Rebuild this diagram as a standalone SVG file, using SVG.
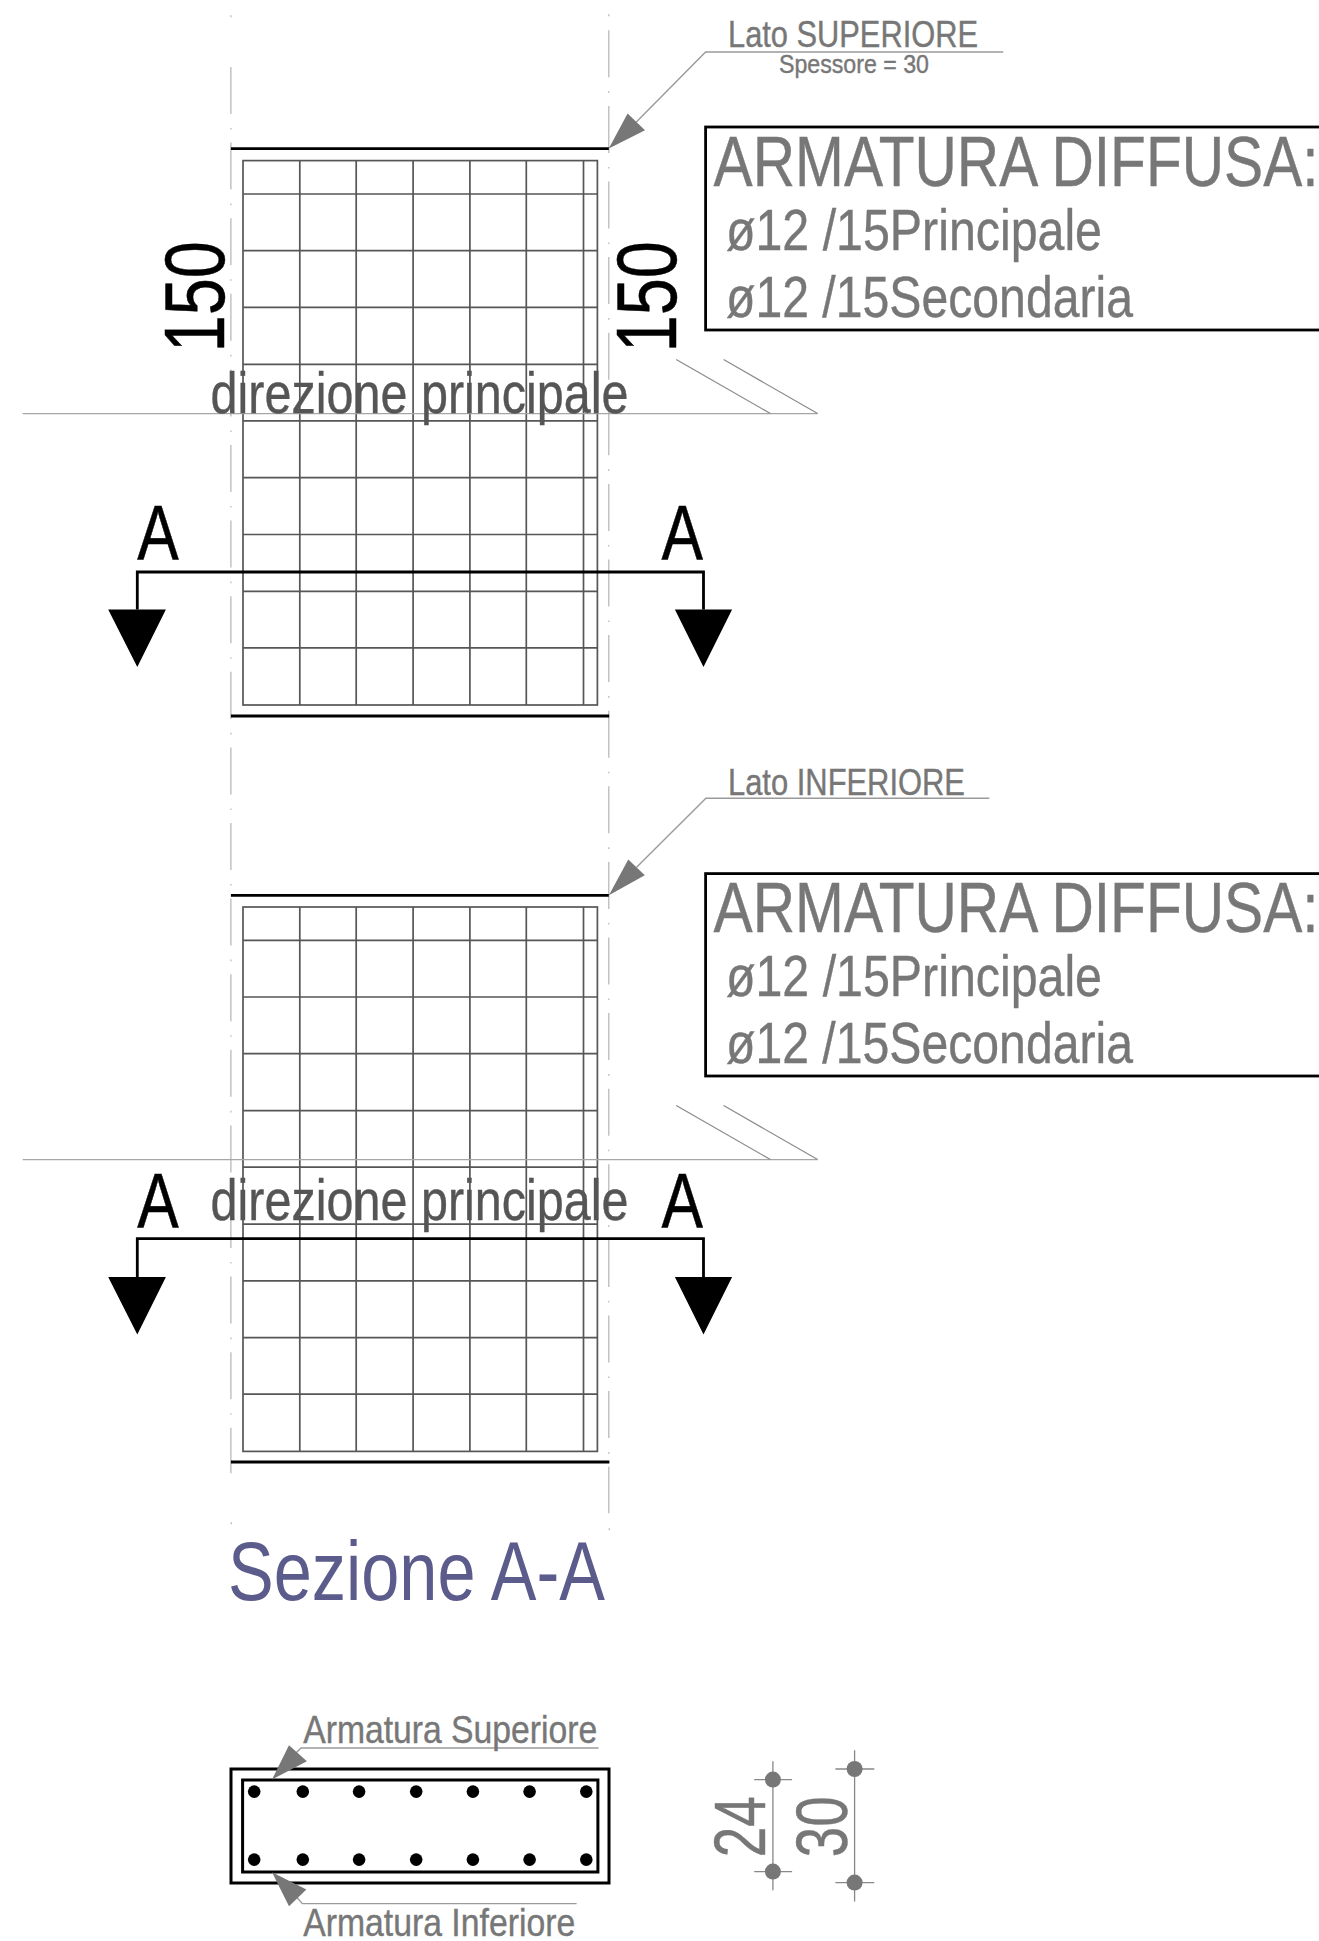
<svg xmlns="http://www.w3.org/2000/svg" xmlns:xlink="http://www.w3.org/1999/xlink" width="1319" height="1941" viewBox="0 0 1319 1941">
<style>
text{font-family:"Liberation Sans",Arial,sans-serif}
text.g{fill:#777;stroke:#777;stroke-width:.4}
text.d{fill:#555;stroke:#555;stroke-width:.4}
text.k{fill:#000;stroke:#000;stroke-width:.5}
.k{fill:#000}
.c{stroke:#b4b4b4;stroke-width:1.2;fill:none}
.cd{stroke-dasharray:47 14 1.6 13}
.th{stroke:#000;stroke-width:2.8;fill:none}
.gr{stroke:#565656;stroke-width:1.7;fill:none}
.rf{stroke:#a6a6a6;stroke-width:1.4;fill:none}
.sl{stroke:#8a8a8a;stroke-width:1.2;fill:none}
.ld{stroke:#9a9a9a;stroke-width:1.4;fill:none}
.sec{stroke:#000;stroke-width:3;fill:none}
.ar{fill:#777;stroke:none}
.dm{stroke:#888;stroke-width:1.3;fill:none}
</style>
<defs>
<g id="grid">
<rect class="gr" x="242.4" y="160.3" width="354.4" height="544.4"/>
<path class="gr" d="M299.2 160.3V704.7M355.6 160.3V704.7M412.5 160.3V704.7M469.3 160.3V704.7M525.7 160.3V704.7M582.9 160.3V704.7"/>
<path class="gr" d="M242.4 193.7H596.8M242.4 250.3H596.8M242.4 307H596.8M242.4 364H596.8M242.4 420.5H596.8M242.4 477.4H596.8M242.4 534.2H596.8M242.4 591H596.8M242.4 647.5H596.8"/>
</g>
<g id="refl">
<path class="rf" d="M22 413.3H817"/>
<path class="sl" d="M675.6 359.3L769.8 413.3M723 359.3L817 413.3"/>
</g>
</defs>
<g transform="translate(0.6 0.3)">

<g id="centerlines">
<path class="c" d="M230.3 15V17M608.2 14V16"/>
<path class="c cd" d="M230.3 66.7V1473"/>
<path class="c cd" d="M608.2 30V1513"/>
<path class="c" d="M230.7 1522V1524M608.7 1528V1530"/>
</g>

<g id="panel-superiore">
<path class="th" d="M230.3 148.3H608.2M230.3 715.7H608.6"/>
<use xlink:href="#grid" href="#grid"/>
<use xlink:href="#refl" href="#refl"/>
<text class="k" font-size="86" transform="translate(223.2 352) rotate(-90)" textLength="111" lengthAdjust="spacingAndGlyphs">150</text>
<text class="k" font-size="86" transform="translate(675.6 352) rotate(-90)" textLength="111" lengthAdjust="spacingAndGlyphs">150</text>
</g>

<g id="section-line-1">
<path class="th" d="M136.7 609.3V571.7H702.9V609.3"/>
<path class="k" d="M107.6 609.3H165.3L136.7 666.7ZM674.3 609.3H731.5L702.9 666.7Z"/>
<text class="k" font-size="77" x="136.7" y="560" textLength="41.5" lengthAdjust="spacingAndGlyphs">A</text>
<text class="k" font-size="77" x="660.8" y="560" textLength="41.5" lengthAdjust="spacingAndGlyphs">A</text>
</g>
<text id="label-direzione-1" class="d" font-size="58" x="210" y="413" textLength="418" lengthAdjust="spacingAndGlyphs">direzione principale</text>

<g id="callout-superiore">
<path class="ld" d="M1002.6 51.7H705L635.7 121.7"/>
<path class="ar" d="M608.2 148.3L627 113.3L644.4 130Z"/>
<text class="g" font-size="36" x="727.4" y="46.7" textLength="250" lengthAdjust="spacingAndGlyphs">Lato SUPERIORE</text>
<text class="g" font-size="26" x="778.4" y="72.7" textLength="150" lengthAdjust="spacingAndGlyphs">Spessore = 30</text>
</g>
<g id="box-superiore">
<rect class="th" x="705" y="126.7" width="640" height="203"/>
<text class="g" font-size="71" x="713" y="186" textLength="605" lengthAdjust="spacingAndGlyphs">ARMATURA DIFFUSA:</text>
<text class="g" font-size="57" x="725.4" y="249.6" textLength="376" lengthAdjust="spacingAndGlyphs">ø12 /15Principale</text>
<text class="g" font-size="57" x="725.4" y="316.6" textLength="407" lengthAdjust="spacingAndGlyphs">ø12 /15Secondaria</text>
</g>

<g id="panel-inferiore">
<path class="th" d="M230.3 895H608.2M230.3 1461.7H608.8"/>
<use xlink:href="#grid" href="#grid" transform="translate(0 746.4)"/>
<use xlink:href="#refl" href="#refl" transform="translate(0 746)"/>
</g>

<g id="section-line-2">
<path class="th" d="M136.7 1276.7V1238.3H702.9V1276.7"/>
<path class="k" d="M107.6 1276.7H165.3L136.7 1334.3ZM674.3 1276.7H731.5L702.9 1334.3Z"/>
<text class="k" font-size="77" x="136.7" y="1227.7" textLength="41.5" lengthAdjust="spacingAndGlyphs">A</text>
<text class="k" font-size="77" x="660.8" y="1227.7" textLength="41.5" lengthAdjust="spacingAndGlyphs">A</text>
</g>
<text id="label-direzione-2" class="d" font-size="58" x="210" y="1220" textLength="418" lengthAdjust="spacingAndGlyphs">direzione principale</text>

<g id="callout-inferiore">
<path class="ld" d="M988.7 798H705.3L636 867"/>
<path class="ar" d="M608.3 895L627.7 859.3L644.2 875Z"/>
<text class="g" font-size="36" x="727.4" y="794.6" textLength="237" lengthAdjust="spacingAndGlyphs">Lato INFERIORE</text>
</g>
<g id="box-inferiore">
<rect class="th" x="705" y="873.3" width="640" height="202.4"/>
<text class="g" font-size="71" x="713" y="932" textLength="605" lengthAdjust="spacingAndGlyphs">ARMATURA DIFFUSA:</text>
<text class="g" font-size="57" x="725.4" y="995.6" textLength="376" lengthAdjust="spacingAndGlyphs">ø12 /15Principale</text>
<text class="g" font-size="57" x="725.4" y="1062.6" textLength="407" lengthAdjust="spacingAndGlyphs">ø12 /15Secondaria</text>
</g>

<text id="title-sezione" font-size="84" fill="#5b5b8c" x="227.4" y="1600" textLength="377" lengthAdjust="spacingAndGlyphs">Sezione A-A</text>

<g id="section-aa">
<rect class="sec" x="230.4" y="1768.7" width="378" height="114"/>
<rect class="sec" x="242" y="1779.7" width="355.3" height="92"/>
<g class="k">
<circle cx="253.6" cy="1791.3" r="6.3"/><circle cx="302.2" cy="1791.3" r="6.3"/><circle cx="358.5" cy="1791.3" r="6.3"/><circle cx="415.6" cy="1791.3" r="6.3"/><circle cx="472.3" cy="1791.3" r="6.3"/><circle cx="529" cy="1791.3" r="6.3"/><circle cx="585.7" cy="1791.3" r="6.3"/>
<circle cx="253.6" cy="1859.3" r="6.3"/><circle cx="302.2" cy="1859.3" r="6.3"/><circle cx="358.5" cy="1859.3" r="6.3"/><circle cx="415.6" cy="1859.3" r="6.3"/><circle cx="472.3" cy="1859.3" r="6.3"/><circle cx="529" cy="1859.3" r="6.3"/><circle cx="585.7" cy="1859.3" r="6.3"/>
</g>
</g>
<g id="callout-armatura-superiore">
<path class="ld" d="M598 1747.7H300.4L295 1753"/>
<path class="ar" d="M271.4 1779.3L288.4 1745L306.3 1761Z"/>
<text class="g" font-size="39" x="302.6" y="1742.4" textLength="294" lengthAdjust="spacingAndGlyphs">Armatura Superiore</text>
</g>
<g id="callout-armatura-inferiore">
<path class="ld" d="M576 1903.3H301.8L296 1897"/>
<path class="ar" d="M271.4 1872L288.4 1906L305.8 1889.3Z"/>
<text class="g" font-size="39" x="302.6" y="1936" textLength="272" lengthAdjust="spacingAndGlyphs">Armatura Inferiore</text>
</g>
<g id="dim-24">
<path class="dm" d="M772.3 1761V1890M753.6 1779.3H791.5M753.6 1871.3H791.5"/>
<circle class="ar" cx="772.3" cy="1779.3" r="8"/><circle class="ar" cx="772.3" cy="1871.3" r="8"/>
<text class="g" font-size="72" transform="translate(764.6 1857) rotate(-90)" textLength="61" lengthAdjust="spacingAndGlyphs">24</text>
</g>
<g id="dim-30">
<path class="dm" d="M854 1750V1901.3M834.8 1768.7H873.7M834.8 1882.3H873.7"/>
<circle class="ar" cx="854" cy="1768.7" r="8"/><circle class="ar" cx="854" cy="1882.3" r="8"/>
<text class="g" font-size="72" transform="translate(846.6 1857) rotate(-90)" textLength="61" lengthAdjust="spacingAndGlyphs">30</text>
</g>
</g>
</svg>
